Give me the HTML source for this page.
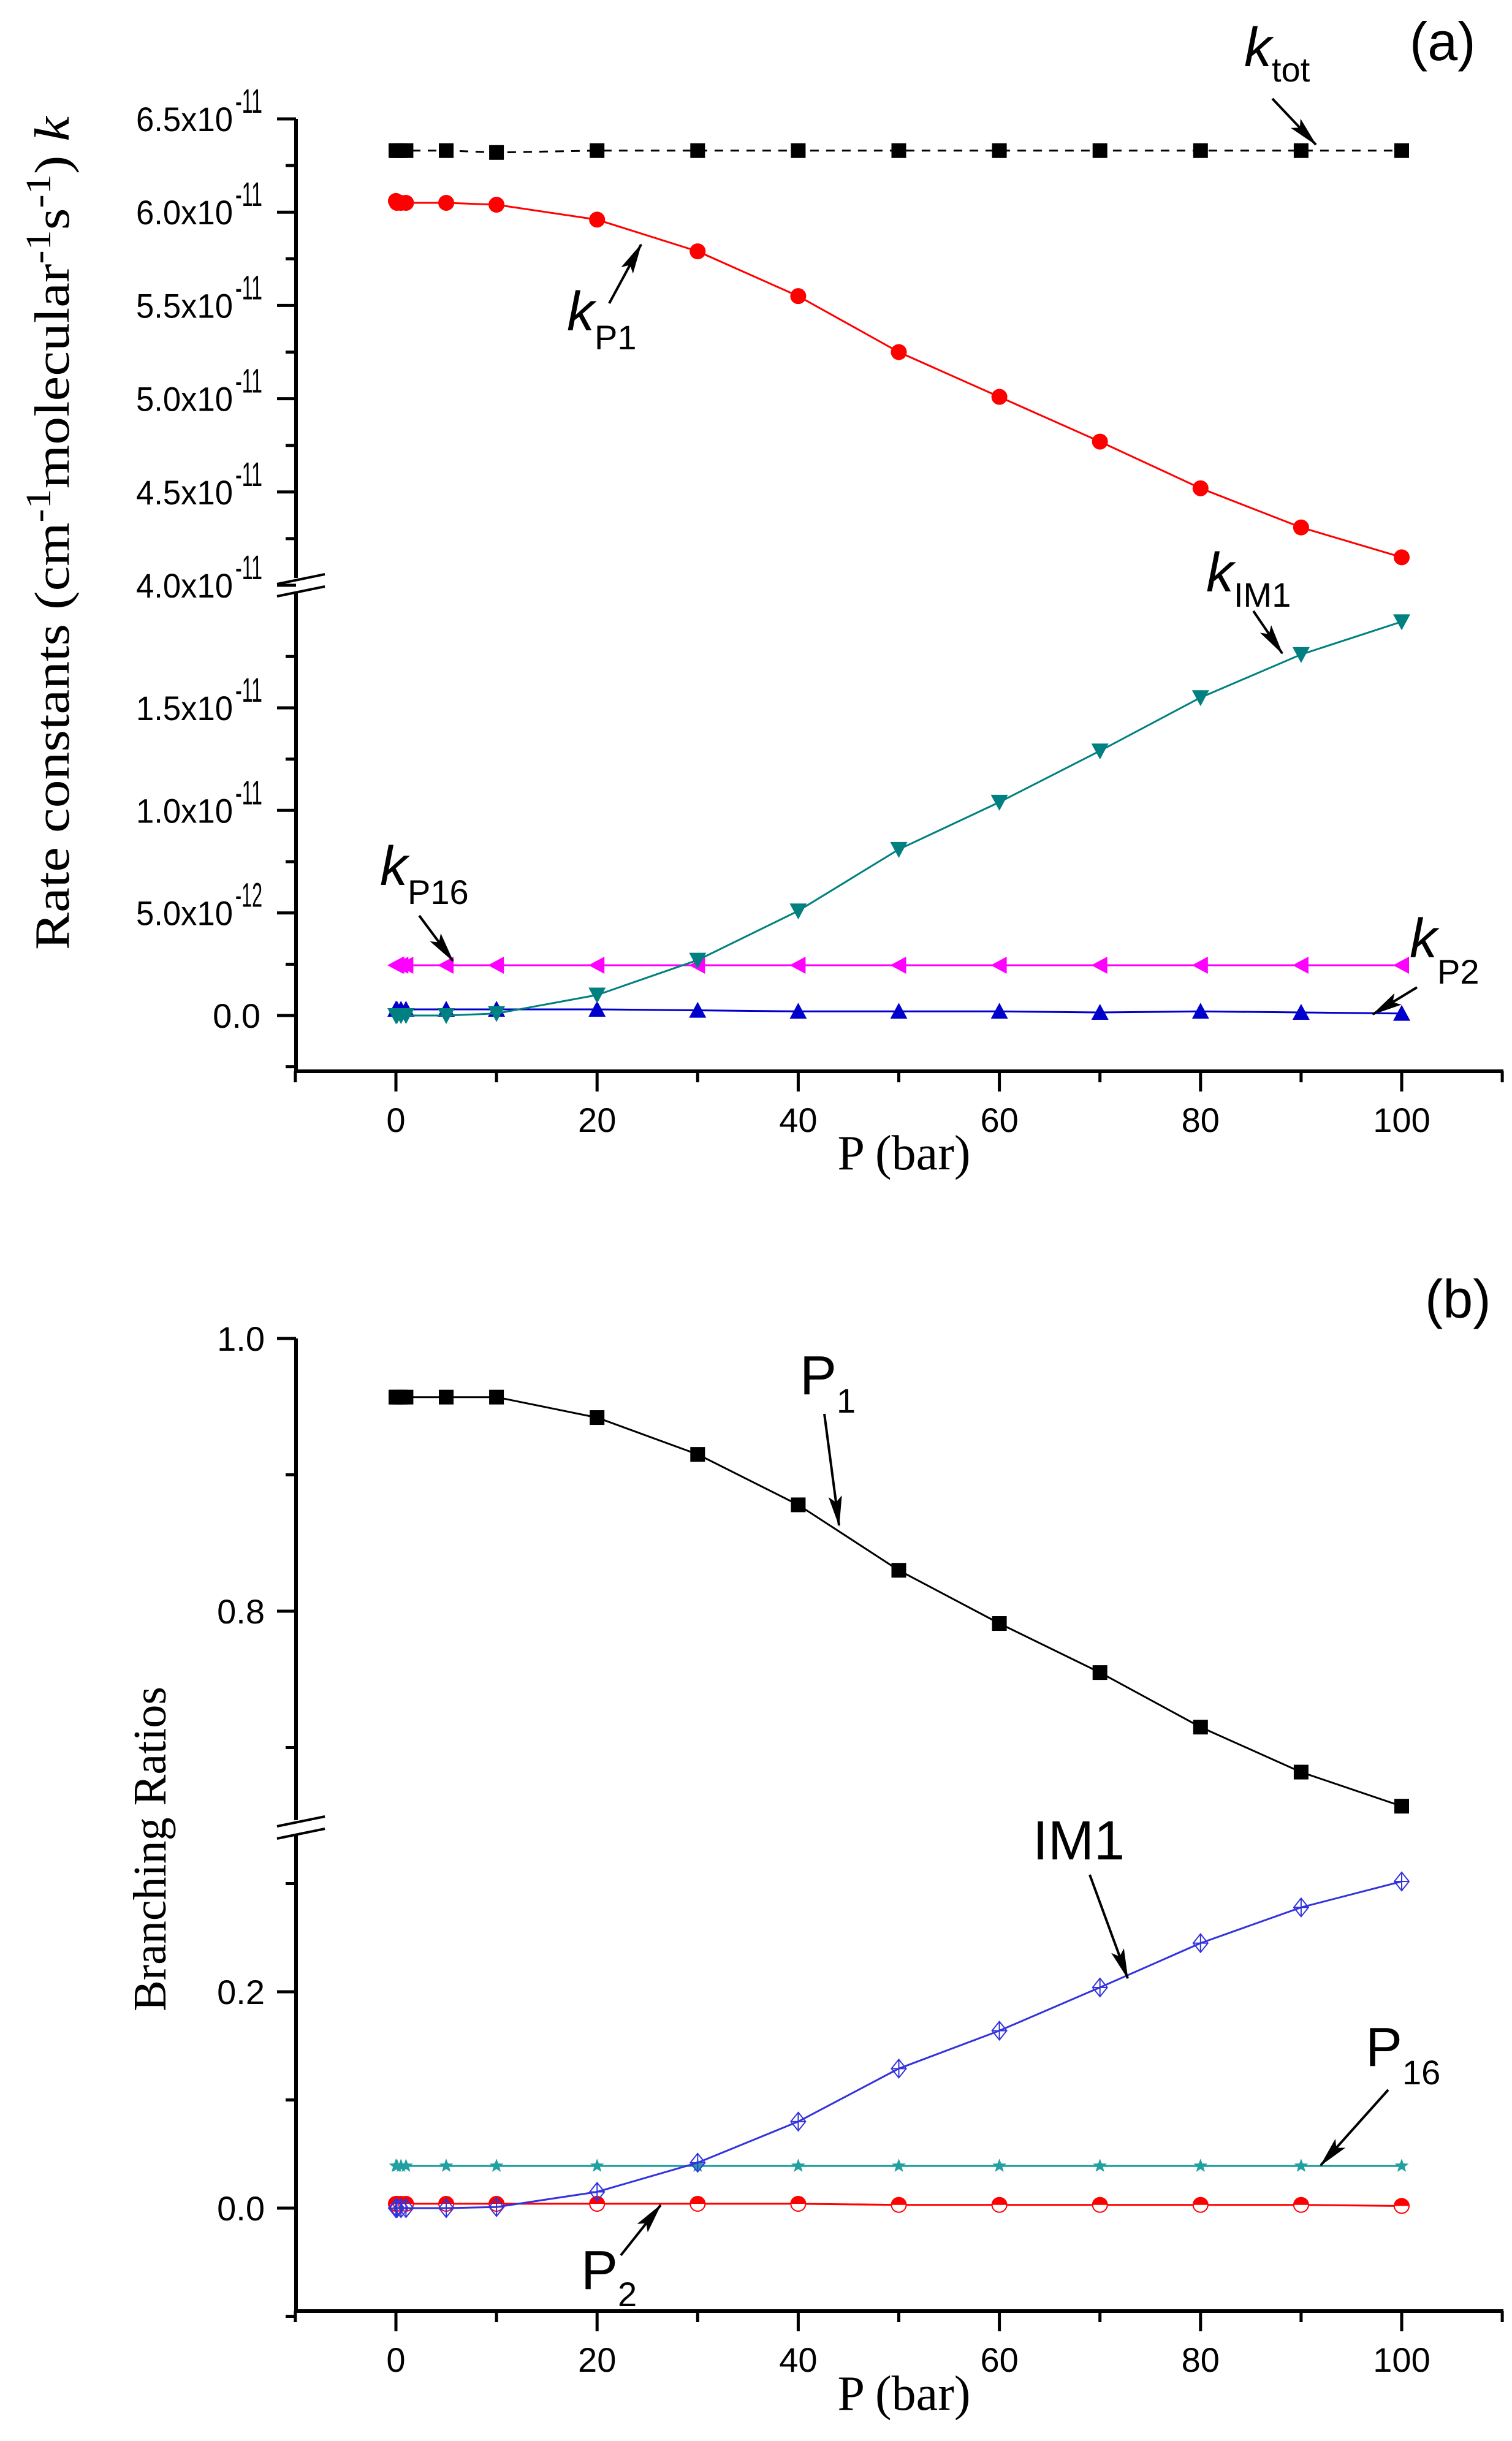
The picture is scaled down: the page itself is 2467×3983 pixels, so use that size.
<!DOCTYPE html>
<html><head><meta charset="utf-8"><style>
html,body{margin:0;padding:0;background:#fff;}
svg{display:block;}
.tk{font-family:"Liberation Sans",Arial,sans-serif;font-size:56px;fill:#000;}
.ser{font-family:"Liberation Serif","Times New Roman",serif;fill:#000;}
.ann{font-family:"Liberation Sans",Arial,sans-serif;fill:#000;}
</style></head><body>
<svg id="fig" width="2467" height="3983" viewBox="0 0 2467 3983" xmlns="http://www.w3.org/2000/svg">
<defs>
<marker id="ah" viewBox="0 0 50 22" refX="48" refY="11" markerWidth="50" markerHeight="22" orient="auto" markerUnits="userSpaceOnUse" style="overflow:visible">
<path d="M0,0 L50,11 L0,22 L10,11 z" fill="#000"/>
</marker>
</defs>
<g id="top"></g>
<g id="bot"></g>

<text class="ann" x="2300" y="98" font-size="88">(a)</text>
<text class="ann" x="2030" y="108" font-size="90" font-style="italic">k<tspan font-size="56" font-style="normal" dy="25">tot</tspan></text>
<text class="ann" x="925" y="539" font-size="90" font-style="italic">k<tspan font-size="56" font-style="normal" dy="31">P1</tspan></text>
<text class="ann" x="1968" y="965" font-size="90" font-style="italic">k<tspan font-size="56" font-style="normal" dy="25">IM1</tspan></text>
<text class="ann" x="620" y="1444" font-size="90" font-style="italic">k<tspan font-size="56" font-style="normal" dy="31">P16</tspan></text>
<text class="ann" x="2300" y="1562" font-size="90" font-style="italic">k<tspan font-size="56" font-style="normal" dy="43">P2</tspan></text>
<text class="ser" transform="translate(112,870) rotate(-90)" text-anchor="middle" font-size="80" textLength="1360" lengthAdjust="spacingAndGlyphs">Rate constants (cm<tspan font-size="58" dy="-30">-1</tspan><tspan dy="30">molecular</tspan><tspan font-size="58" dy="-30">-1</tspan><tspan dy="30">s</tspan><tspan font-size="58" dy="-30">-1</tspan><tspan dy="30">) </tspan><tspan font-style="italic">k</tspan></text>
<text class="ser" x="1475" y="1908" text-anchor="middle" font-size="80">P (bar)</text>

<text class="ann" x="2325" y="2150" font-size="88">(b)</text>
<text class="ann" x="1305" y="2275" font-size="90">P<tspan font-size="56" dy="30">1</tspan></text>
<text class="ann" x="1685" y="3034" font-size="90">IM1</text>
<text class="ann" x="2228" y="3371" font-size="90">P<tspan font-size="56" dy="30">16</tspan></text>
<text class="ann" x="948" y="3735" font-size="90">P<tspan font-size="56" dy="28">2</tspan></text>
<text class="ser" transform="translate(270,3017) rotate(-90)" text-anchor="middle" font-size="76">Branching Ratios</text>
<text class="ser" x="1475" y="3932" text-anchor="middle" font-size="80">P (bar)</text>

<line x1="2076" y1="161" x2="2147" y2="236" stroke="#000" stroke-width="4" marker-end="url(#ah)"/>
<line x1="994" y1="495" x2="1046" y2="399" stroke="#000" stroke-width="4" marker-end="url(#ah)"/>
<line x1="2045" y1="997" x2="2092" y2="1066" stroke="#000" stroke-width="4" marker-end="url(#ah)"/>
<line x1="684" y1="1494" x2="739" y2="1568" stroke="#000" stroke-width="4" marker-end="url(#ah)"/>
<line x1="2312" y1="1611" x2="2240" y2="1655" stroke="#000" stroke-width="4" marker-end="url(#ah)"/>
<line x1="1345" y1="2307" x2="1369" y2="2489" stroke="#000" stroke-width="4" marker-end="url(#ah)"/>
<line x1="1778" y1="3059" x2="1840" y2="3228" stroke="#000" stroke-width="4" marker-end="url(#ah)"/>
<line x1="2265" y1="3410" x2="2155" y2="3533" stroke="#000" stroke-width="4" marker-end="url(#ah)"/>
<line x1="1013" y1="3680" x2="1078" y2="3598" stroke="#000" stroke-width="4" marker-end="url(#ah)"/>
</svg>
<script>
const pressures = [0, 0.1, 0.5, 1, 5, 10, 20, 30, 40, 50, 60, 70, 80, 90, 100];
const kTot  = [6.33,6.33,6.33,6.33,6.33,6.32,6.33,6.33,6.33,6.33,6.33,6.33,6.33,6.33,6.33];
const kP1   = [6.06,6.05,6.05,6.05,6.05,6.04,5.96,5.79,5.55,5.25,5.01,4.77,4.52,4.31,4.15];
const kIM1  = [0.0,0.0,0.0,0.0,0.0,0.01,0.10,0.27,0.51,0.81,1.04,1.29,1.55,1.76,1.92];
const kP16  = [0.245,0.245,0.245,0.245,0.245,0.245,0.245,0.245,0.245,0.245,0.245,0.245,0.245,0.245,0.245];
const kP2   = [0.03,0.03,0.03,0.03,0.03,0.03,0.03,0.025,0.02,0.02,0.02,0.015,0.02,0.015,0.01];
const yTicksA = [0,0.5,1.0,1.5,4.0,4.5,5.0,5.5,6.0,6.5];
const yTickLabelsA = [["0.0",""],["5.0x10","-12"],["1.0x10","-11"],["1.5x10","-11"],["4.0x10","-11"],["4.5x10","-11"],["5.0x10","-11"],["5.5x10","-11"],["6.0x10","-11"],["6.5x10","-11"]];
const yMinorA = [-0.25,0.25,0.75,1.25,1.75,4.25,4.75,5.25,5.75,6.25];
const brP1   = [0.957,0.957,0.957,0.957,0.957,0.957,0.942,0.915,0.878,0.830,0.791,0.755,0.715,0.682,0.657];
const brIM1  = [0.0,0.0,0.0,0.0,0.0,0.001,0.015,0.042,0.080,0.129,0.164,0.204,0.245,0.278,0.302];
const brP16  = [0.039,0.039,0.039,0.039,0.039,0.039,0.039,0.039,0.039,0.039,0.039,0.039,0.039,0.039,0.039];
const brP2   = [0.004,0.004,0.004,0.004,0.004,0.004,0.004,0.004,0.004,0.003,0.003,0.003,0.003,0.003,0.002];
const yTicksB = [0,0.2,0.8,1.0];
const yTickLabelsB = ["0.0","0.2","0.8","1.0"];
const yMinorB = [-0.1,0.1,0.3,0.7,0.9];
const xTicks = [0,20,40,60,80,100];
const xMinor = [-10,10,30,50,70,90,110];

function xS(p){ return 646 + p*16.41; }
function yA(v){ return v >= 3 ? 955 - (v-4.0)*304.4 : 1657 - v*334.7; }
function yB(v){ return v >= 0.5 ? 2629 - (v-0.8)*2225 : 3603 - v*1765; }

const NS="http://www.w3.org/2000/svg";
function mk(tag, attrs, parent){
  const e=document.createElementNS(NS,tag);
  for(const k in attrs) e.setAttribute(k,attrs[k]);
  parent.appendChild(e); return e;
}

function drawAxes(g, yFn, top, breakY, bottom, ticks, labels, minors, superLab, nm){
  const ax = mk('g',{},g);
  
  
  mk('line',{x1:483,y1:top,x2:483,y2:breakY-12,stroke:'#000','stroke-width':6},ax);
  mk('line',{x1:483,y1:breakY+12,x2:483,y2:bottom,stroke:'#000','stroke-width':6},ax);
  mk('line',{x1:452,y1:breakY-2,x2:530,y2:breakY-18,stroke:'#000','stroke-width':4},ax);
  mk('line',{x1:452,y1:breakY+18,x2:530,y2:breakY+2,stroke:'#000','stroke-width':4},ax);
  mk('line',{x1:480,y1:bottom,x2:2453,y2:bottom,stroke:'#000','stroke-width':6},ax);
  ticks.forEach((v,i)=>{
    const y=yFn(v);
    mk('line',{x1:452,y1:y,x2:483,y2:y,stroke:'#000','stroke-width':5},ax);
    const t=mk('text',{x:432,y:y+20,'text-anchor':'end',class:'tk'},ax);
    
    
    if(superLab){
      t.textContent=labels[i][0];
      if(labels[i][1]){
        t.setAttribute('x',222);
        t.setAttribute('text-anchor','start');
        t.setAttribute('textLength',158);
        t.setAttribute('lengthAdjust','spacingAndGlyphs');
        const s=mk('text',{x:384,y:y-10,class:'tk','font-size':34,textLength:44,lengthAdjust:'spacingAndGlyphs'},ax);
        s.textContent=labels[i][1];
      } else { t.setAttribute('x',425); t.setAttribute('font-size',54); }
    } else t.textContent=labels[i];
  });
  minors.forEach(v=>{
    const y=yFn(v);
    mk('line',{x1:466,y1:y,x2:483,y2:y,stroke:'#000','stroke-width':5},ax);
  });
  xTicks.forEach(p=>{
    const x=xS(p);
    mk('line',{x1:x,y1:bottom,x2:x,y2:bottom+33,stroke:'#000','stroke-width':5},ax);
    const t=mk('text',{x:x,y:bottom+99,'text-anchor':'middle',class:'tk'},ax);
    
    
    t.textContent=String(p);
  });
  xMinor.forEach(p=>{
    const x=xS(p);
    mk('line',{x1:x,y1:bottom,x2:x,y2:bottom+18,stroke:'#000','stroke-width':5},ax);
  });
}

function marker(g, type, x, y, color){
  const r=12;
  if(type==='square') mk('rect',{x:x-r,y:y-r,width:2*r,height:2*r,fill:color},g);
  else if(type==='circle') mk('circle',{cx:x,cy:y,r:r+1,fill:color},g);
  else if(type==='down') mk('polygon',{points:`${x-r-2},${y-r} ${x+r+2},${y-r} ${x},${y+r+2}`,fill:color},g);
  else if(type==='up') mk('polygon',{points:`${x-r-2},${y+r} ${x+r+2},${y+r} ${x},${y-r-2}`,fill:color},g);
  else if(type==='left') mk('polygon',{points:`${x+r},${y-r-2} ${x+r},${y+r+2} ${x-r-2},${y}`,fill:color},g);
  else if(type==='diamond'){
    mk('polygon',{points:`${x},${y-r-3} ${x+r},${y} ${x},${y+r+3} ${x-r},${y}`,fill:'none',stroke:color,'stroke-width':2},g);
    mk('line',{x1:x-r,y1:y,x2:x+r,y2:y,stroke:color,'stroke-width':2},g);
    mk('line',{x1:x,y1:y-r-3,x2:x,y2:y+r+3,stroke:color,'stroke-width':2},g);
  }
  else if(type==='star'){
    let pts=[];
    for(let k=0;k<10;k++){const a=-Math.PI/2+k*Math.PI/5;const rr=k%2?5:12;pts.push((x+rr*Math.cos(a)).toFixed(1)+','+(y+rr*Math.sin(a)).toFixed(1));}
    mk('polygon',{points:pts.join(' '),fill:color},g);
  }
  else if(type==='halfcircle'){
    mk('circle',{cx:x,cy:y,r:r,fill:'#fff',stroke:color,'stroke-width':2},g);
    mk('path',{d:`M${x-r},${y} A${r},${r} 0 0 1 ${x+r},${y} Z`,fill:color},g);
  }
}

function series(g, vals, yFn, color, type, name, dash){
  const sg=mk('g',{},g);
  
  
  const d=pressures.map((p,i)=>(i?'L':'M')+xS(p).toFixed(1)+','+yFn(vals[i]).toFixed(1)).join(' ');
  const ln=mk('path',{d:d,fill:'none',stroke:color,'stroke-width':3},sg);
  if(dash) ln.setAttribute('stroke-dasharray',dash);
  pressures.forEach((p,i)=>marker(sg,type,xS(p),yFn(vals[i]),color));
}

const gT=document.getElementById('top');
drawAxes(gT,yA,194,955,1748,yTicksA,yTickLabelsA,yMinorA,true,'panel-a');
series(gT,kTot,yA,'#000','square','series-ktot','14,12');
series(gT,kP1,yA,'#ff0000','circle','series-kp1');
series(gT,kP16,yA,'#ff00ff','left','series-kp16');
series(gT,kP2,yA,'#0000cc','up','series-kp2');
series(gT,kIM1,yA,'#008080','down','series-kim1');

const gB=document.getElementById('bot');
drawAxes(gB,yB,2184,2982,3771,yTicksB,yTickLabelsB,yMinorB,false,'panel-b');
series(gB,brP1,yB,'#000','square','series-p1');
series(gB,brP16,yB,'#20a0a0','star','series-p16');
series(gB,brP2,yB,'#ff0000','halfcircle','series-p2');
series(gB,brIM1,yB,'#3333dd','diamond','series-im1');
</script>
</body></html>
